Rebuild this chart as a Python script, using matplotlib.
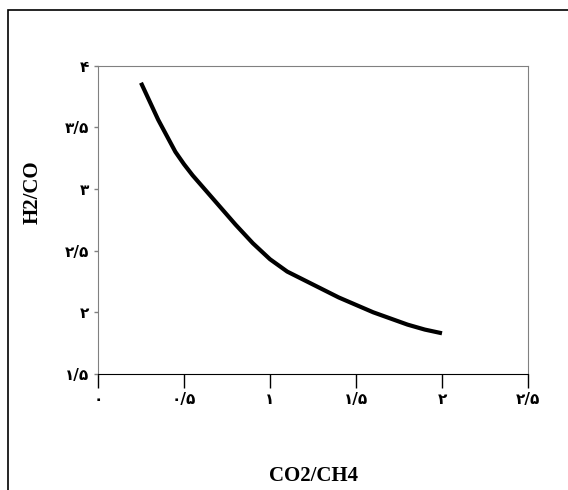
import matplotlib.pyplot as plt
from matplotlib.patches import Rectangle

# CO2/CH4 ratio vs H2/CO ratio
co2_ch4 = [0.25, 0.3, 0.35, 0.4, 0.45, 0.5, 0.55, 0.6, 0.7, 0.8, 0.9, 1.0, 1.1,
           1.2, 1.3, 1.4, 1.5, 1.6, 1.7, 1.8, 1.9, 2.0]
h2_co = [3.86, 3.71, 3.56, 3.43, 3.30, 3.20, 3.11, 3.03, 2.87, 2.71, 2.56, 2.43, 2.33,
         2.26, 2.19, 2.12, 2.06, 2.00, 1.95, 1.90, 1.86, 1.83]

xticks = [0, 0.5, 1, 1.5, 2, 2.5]
xticklabels = ['۰', '۰/۵', '۱', '۱/۵', '۲', '۲/۵']
yticks = [1.5, 2, 2.5, 3, 3.5, 4]
yticklabels = ['۱/۵', '۲', '۲/۵', '۳', '۳/۵', '۴']

W, H = 568, 490
fig = plt.figure(figsize=(W / 100, H / 100), dpi=100)
ax = fig.add_axes([98 / W, 1 - 374 / H, 430 / W, 308.5 / H])

ax.plot(co2_ch4, h2_co, color='black', lw=3, solid_capstyle='butt',
        solid_joinstyle='round')

ax.set_xlim(0, 2.5)
ax.set_ylim(1.5, 4)
ax.set_xticks(xticks)
ax.set_xticklabels(xticklabels, fontsize=11, fontweight='bold', family='DejaVu Sans')
ax.set_yticks(yticks)
ax.set_yticklabels(yticklabels, fontsize=11, fontweight='bold', family='DejaVu Sans')
ax.tick_params(axis='x', direction='out', length=10, width=1, pad=3, colors='black')
ax.tick_params(axis='y', direction='out', length=3, width=1, pad=3, color='#808080')

for side in ['left', 'top', 'right']:
    ax.spines[side].set_color('#808080')
ax.spines['bottom'].set_color('black')

ax.set_xlabel('CO2/CH4', fontsize=15, fontweight='bold', family='Liberation Serif')
ax.set_ylabel('H2/CO', fontsize=15, fontweight='bold', family='Liberation Serif')
ax.xaxis.set_label_coords(0.5, -0.298)
ax.yaxis.set_label_coords(-0.128, 0.59)

# outer frame (only left and top visible in the crop)
fig.patches.append(Rectangle((8 / W, -0.1), 1.2, 1 - 9.5 / H + 0.1,
                             transform=fig.transFigure, fill=False,
                             edgecolor='black', lw=1.2, clip_on=False))

fig.savefig('out.png', dpi=100)
